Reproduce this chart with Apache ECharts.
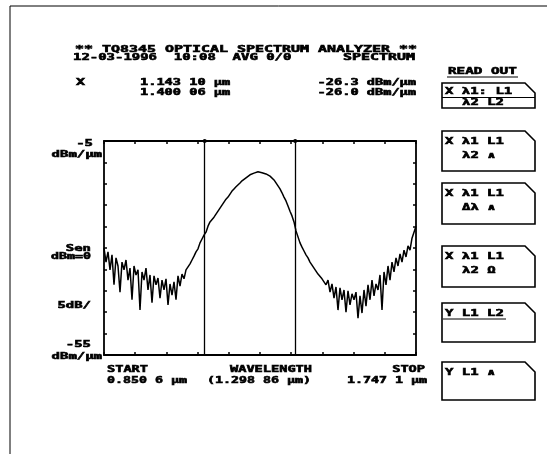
<!DOCTYPE html>
<html>
<head>
<meta charset="utf-8">
<script src="https://cdn.jsdelivr.net/npm/echarts@6/dist/echarts.min.js"></script>
<style>
  html, body { margin: 0; padding: 0; background: #fff; }
  #chart { width: 547px; height: 454px; }
</style>
</head>
<body>
<div id="chart"></div>
<script>
// Sweep settings (µm) and vertical scale (dBm/µm)
const START_UM = 0.8506;
const STOP_UM = 1.7471;
const CENTER_UM = 1.29886;
const REF_TOP_DBM = -5;
const REF_BOTTOM_DBM = -55;
const DB_PER_DIV = 5;
const X_DIVISIONS = 10;

// Marker readouts
const MARKER_UM = [1.14310, 1.40006];
const MARKER_DBM = [-26.3, -26.0];

// Spectrum trace in dBm/µm, sampled evenly from START_UM to STOP_UM
const LEVEL_DBM = [
  -30.0, -33.3, -30.9, -35.1, -31.6, -38.6, -32.3, -34.2, -40.3, -33.3,
  -35.1, -32.8, -37.5, -34.7, -42.1, -34.2, -36.3, -35.1, -44.5, -35.6,
  -37.5, -34.7, -39.8, -36.3, -42.8, -36.5, -38.6, -37.0, -41.7, -37.5,
  -39.8, -37.2, -43.3, -38.4, -41.0, -37.9, -42.1, -36.5, -38.9, -36.1,
  -37.2, -35.1, -34.7, -33.7, -32.8, -31.9, -30.9, -30.2, -28.8, -27.9,
  -27.0, -26.3, -24.9, -23.9, -23.5, -22.8, -22.1, -21.4, -20.7, -20.0,
  -19.3, -18.6, -18.1, -17.4, -16.7, -16.2, -15.7, -15.3, -14.8, -14.3,
  -13.9, -13.6, -13.2, -12.9, -12.7, -12.5, -12.4, -12.2, -12.2, -12.4,
  -12.5, -12.7, -12.9, -13.2, -13.6, -14.1, -14.8, -15.5, -16.2, -17.1,
  -18.1, -19.0, -20.2, -21.4, -22.5, -23.9, -26.0, -27.4, -28.8, -29.8,
  -30.7, -31.6, -32.3, -33.3, -34.0, -34.7, -35.4, -36.1, -36.3, -37.2,
  -36.8, -38.6, -37.5, -40.3, -38.4, -41.7, -39.1, -44.5, -39.3, -42.1,
  -39.8, -45.0, -40.0, -43.3, -40.7, -42.1, -40.3, -46.4, -41.2, -45.2,
  -39.8, -43.6, -38.6, -42.1, -37.5, -41.2, -38.4, -39.8, -36.3, -44.5,
  -35.6, -38.6, -34.2, -37.5, -33.3, -35.6, -32.3, -34.2, -31.4, -33.3,
  -30.5, -32.1, -29.5, -30.5, -27.7, -28.1, -24.9
];

// Screen texts
const HEADER_LINES = ['** TQ8345 OPTICAL SPECTRUM ANALYZER **', '12-03-1996  10:08  AVG 0/0'];
const MODE_TEXT = 'SPECTRUM';
const UNIT_UM = 'µm';
const UNIT_DBM = 'dBm/µm';
const MID_LABEL = ['Sen', 'dBm=0'];
const SCALE_LABEL = DB_PER_DIV + 'dB/';
const AXIS_WORDS = ['START', 'WAVELENGTH', 'STOP'];
const MENU_TITLE = 'READ OUT';
const SOFT_KEYS = [
  ['X λ1: L1', 'λ2 L2'],
  ['X λ1 L1', 'λ2 ∧'],
  ['X λ1 L1', 'Δλ ∧'],
  ['X λ1 L1', 'λ2 Ω'],
  ['Y L1 L2', ''],
  ['Y L1 ∧', '']
];

// ---------- helpers ----------
const FONT_SIZE = 8.5;
const FONT = 'bold ' + FONT_SIZE + 'px "DejaVu Sans Mono"';
const ADVANCE = FONT_SIZE * 0.602;

function fmtUm(v, decimals) {
  const s = v.toFixed(decimals);
  const dot = s.indexOf('.');
  return s.slice(0, dot + 4) + ' ' + s.slice(dot + 4);
}
// dot-matrix style text: monospace, stretched to the printer's pitch and thickened
function txt(s, x, y, pitch, align) {
  return {
    type: 'text', x: x, y: y, scaleX: pitch / ADVANCE, silent: true, z: 20,
    style: {
      text: s, font: FONT, fill: '#000', stroke: '#000', lineWidth: 0.55,
      textAlign: align || 'left', align: align || 'left',
      textVerticalAlign: 'middle', verticalAlign: 'middle'
    }
  };
}
function seg(x1, y1, x2, y2, w) {
  return {
    type: 'line', silent: true, z: 20,
    shape: { x1: x1, y1: y1, x2: x2, y2: y2 },
    style: { stroke: '#000', lineWidth: w || 1.2 }
  };
}
function keyBox(top, bottom) {
  const l = 442, r = 535, cut = 10;
  return {
    type: 'polygon', silent: true, z: 20,
    shape: { points: [[l, top], [r - cut, top], [r, top + cut], [r, bottom], [l, bottom]] },
    style: { fill: 'none', stroke: '#000', lineWidth: 1.6 }
  };
}

// ---------- data ----------
const span = STOP_UM - START_UM;
const trace = LEVEL_DBM.map((v, i) => [START_UM + i * span / (LEVEL_DBM.length - 1), v]);
const divisionTicks = [];
for (let k = 0; k <= X_DIVISIONS; k++) divisionTicks.push(START_UM + k * span / X_DIVISIONS);

const frameAxisLine = { show: true, onZero: false, lineStyle: { color: '#000', width: 1.8 } };
const innerTick = { show: true, inside: true, length: 3, lineStyle: { color: '#000', width: 1.5 } };

const chart = echarts.init(document.getElementById('chart'), null, { renderer: 'canvas' });

const xAxisBase = {
  type: 'value', min: START_UM, max: STOP_UM,
  axisLine: frameAxisLine,
  axisTick: Object.assign({ customValues: divisionTicks }, innerTick),
  axisLabel: { show: false }, splitLine: { show: false }
};
const yAxisBase = {
  type: 'value', min: REF_BOTTOM_DBM, max: REF_TOP_DBM, interval: DB_PER_DIV,
  axisLine: frameAxisLine, axisTick: innerTick,
  axisLabel: { show: false }, splitLine: { show: false }
};

chart.setOption({
  animation: false,
  backgroundColor: '#fff',
  grid: { left: 104, top: 141, width: 312, height: 214, show: false },
  xAxis: [
    Object.assign({ position: 'bottom' }, xAxisBase),
    Object.assign({ position: 'top' }, xAxisBase)
  ],
  yAxis: [
    Object.assign({ position: 'left' }, yAxisBase),
    Object.assign({ position: 'right' }, yAxisBase)
  ],
  series: [
    {
      type: 'line', data: trace, showSymbol: false, symbol: 'none',
      lineStyle: { color: '#000', width: 1.5 },
      markLine: {
        silent: true, animation: false,
        symbol: ['none', 'circle'], symbolSize: 4,
        label: { show: false },
        lineStyle: { color: '#000', width: 1.3, type: 'solid' },
        itemStyle: { color: '#000' },
        data: MARKER_UM.map(v => ({ xAxis: v }))
      }
    }
  ]
});

// ---------- screen annotations ----------
const yTop = chart.convertToPixel({ yAxisIndex: 0 }, REF_TOP_DBM);
const yBot = chart.convertToPixel({ yAxisIndex: 0 }, REF_BOTTOM_DBM);
const yMid = chart.convertToPixel({ yAxisIndex: 0 }, (REF_TOP_DBM + REF_BOTTOM_DBM) / 2);

const g = [];
// page frame
g.push(seg(10, 6, 547, 6, 1));
g.push(seg(10, 6, 10, 454, 1));

// header
g.push(txt(HEADER_LINES[0], 75, 50, 9));
g.push(txt(HEADER_LINES[1], 73, 58, 8.4));
g.push(txt(MODE_TEXT, 415, 58, 9, 'right'));

// marker readouts
g.push(txt('X', 76, 83, 9));
MARKER_UM.forEach((um, i) => {
  const y = 83 + i * 9.5;
  g.push(txt(fmtUm(um, 5) + ' ' + UNIT_UM, 140, y, 8.2));
  g.push(txt(MARKER_DBM[i].toFixed(1) + ' ' + UNIT_DBM, 416, y, 8.2, 'right'));
});

// vertical scale labels
g.push(txt(REF_TOP_DBM.toString(), 93, yTop + 3, 8.4, 'right'));
g.push(txt(UNIT_DBM, 102, yTop + 14, 8.4, 'right'));
g.push(txt(MID_LABEL[0], 91, yMid + 1, 8.4, 'right'));
g.push(txt(MID_LABEL[1], 91, yMid + 9, 8.0, 'right'));
g.push(txt(SCALE_LABEL, 91, 306, 8.4, 'right'));
g.push(txt(REF_BOTTOM_DBM.toString(), 91, yBot - 10, 8.4, 'right'));
g.push(txt(UNIT_DBM, 102, yBot + 2, 8.4, 'right'));

// sweep labels
g.push(txt(AXIS_WORDS[0], 107, 370, 8.2));
g.push(txt(fmtUm(START_UM, 4) + ' ' + UNIT_UM, 107, 381, 8.0));
g.push(txt(AXIS_WORDS[1], 230, 370, 8.2));
g.push(txt('(' + fmtUm(CENTER_UM, 5) + ' ' + UNIT_UM + ')', 207, 381, 8.0));
g.push(txt(AXIS_WORDS[2], 425, 370, 8.2, 'right'));
g.push(txt(fmtUm(STOP_UM, 4) + ' ' + UNIT_UM, 427, 381, 8.0, 'right'));

// soft keys
g.push(txt(MENU_TITLE, 448, 72, 8.6));
g.push(seg(447, 77, 518, 77, 1.2));
const boxes = [[83, 108], [131, 171], [183, 224], [246, 287], [303, 342], [362, 400]];
boxes.forEach((b, i) => {
  g.push(keyBox(b[0], b[1]));
  const rows = SOFT_KEYS[i];
  if (i === 0) {
    g.push(txt(rows[0], 445, 92, 8.4));
    g.push(seg(442, 97.5, 535, 97.5, 1.2));
    g.push(txt(rows[1], 462, 102.5, 8.4));
  } else {
    g.push(txt(rows[0], 445, b[0] + 11, 8.4));
    if (rows[1]) g.push(txt(rows[1], 462, b[0] + 25, 8.4));
    if (i === 4) g.push(seg(443, b[0] + 16, 506, b[0] + 16, 1.2));
  }
});

chart.setOption({ graphic: { elements: g } });
</script>
</body>
</html>
